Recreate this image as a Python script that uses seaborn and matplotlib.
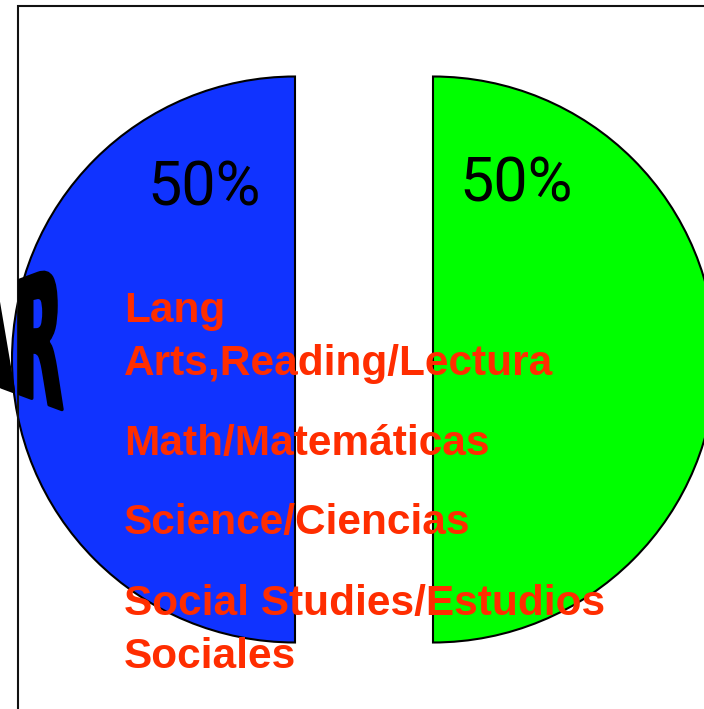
import numpy as np
import matplotlib
matplotlib.use("Agg")
import matplotlib.pyplot as plt
import seaborn as sns
from matplotlib.patches import Rectangle
from matplotlib.path import Path
from matplotlib.patheffects import AbstractPathEffect
from matplotlib.transforms import IdentityTransform

# data
shares = [50, 50]
share_colors = ["#1033FF", "#00FF00"]
subjects = ["Lang\nArts,Reading/Lectura", "Math/Matemáticas",
            "Science/Ciencias", "Social Studies/Estudios\nSociales"]
side_word = "AR"

W, H = 704, 709

sns.set_theme(style="white")
plt.rcParams['font.family'] = ['Liberation Sans', 'DejaVu Sans']


class Warp(AbstractPathEffect):
    # squeezes the word into a tall, perspective-like shape (word art)
    def __init__(self, x0, x1, yc, h0, h1, lw=2.5):
        super().__init__()
        self.x0, self.x1, self.yc, self.h0, self.h1 = x0, x1, yc, h0, h1
        self.lw = lw

    def draw_path(self, renderer, gc, tpath, affine, rgbFace=None):
        v = affine.transform(tpath.vertices)
        bx0, bx1 = v[:, 0].min(), v[:, 0].max()
        by0, by1 = v[:, 1].min(), v[:, 1].max()
        u = (v[:, 0] - bx0) / (bx1 - bx0)
        t = (v[:, 1] - by0) / (by1 - by0) - 0.5
        hh = self.h0 + (self.h1 - self.h0) * u
        out = np.column_stack([self.x0 + u * (self.x1 - self.x0),
                               self.yc + t * hh])
        gc0 = renderer.new_gc()
        gc0.copy_properties(gc)
        gc0.set_linewidth(self.lw)
        gc0.set_foreground(rgbFace)
        renderer.draw_path(gc0, Path(out, tpath.codes), IdentityTransform(), rgbFace)
        gc0.restore()


fig = plt.figure(figsize=(W / 100, H / 100), dpi=100)
ax = fig.add_axes([0, 0, 1, 1])

cx, cy, r = 364, H - 359.5, 283
gap = 69  # pie explode is in data units
ax.pie(shares, colors=share_colors, startangle=90, counterclock=True,
       explode=[gap] * len(shares), radius=r, center=(cx, cy), frame=True,
       wedgeprops=dict(edgecolor="black", linewidth=1.5))

# percentage labels
pct_pos = [(204, H - 188), (516, H - 184)]
for (px, py), v in zip(pct_pos, shares):
    ax.text(px, py, f"{v}%", ha="center", va="center", fontsize=44,
            family=["Roboto", "DejaVu Sans"], color="black", zorder=5)

# word art on the left edge
ax.text(1, H - 337, side_word, fontsize=30, fontweight="bold", color="black",
        ha="left", va="center", zorder=4, family=["DejaVu Sans"],
        path_effects=[Warp(-36, 62, H - 337, 72, 145)])

# frame
ax.add_patch(Rectangle((18, -20), W + 40, H - 6 + 20, fill=False,
                       edgecolor="#111111", linewidth=1.5, zorder=3))

# subject list
base = [322, 455, 534, 615]
for y, s in zip(base, subjects):
    lines = s.split("\n")
    for k, line in enumerate(lines):
        ax.text(124, H - y - 53 * k, line, ha="left", va="baseline",
                fontsize=30.5, fontweight="bold", color="#FF2D00", zorder=6)

ax.set_xlim(0, W)
ax.set_ylim(0, H)
ax.set_aspect("auto")
ax.axis("off")

fig.savefig("out.png", dpi=100)
